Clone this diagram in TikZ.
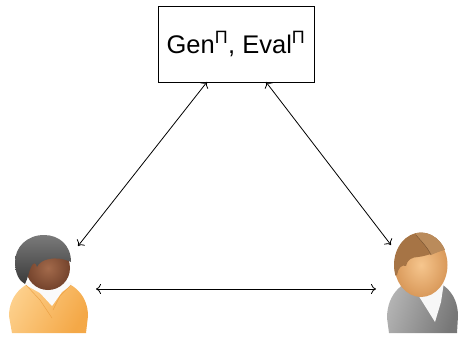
\documentclass[tikz,border=0pt]{standalone}
\usepackage{fontspec}
\setmainfont{Liberation Sans}
\usetikzlibrary{arrows.meta}
\definecolor{jacketLight}{HTML}{FDD08C}
\definecolor{jacketDark}{HTML}{F4A847}
\definecolor{skinDarkIn}{HTML}{A36A4B}
\definecolor{skinDarkOut}{HTML}{74432C}
\definecolor{hairGrayTop}{HTML}{7A7A7A}
\definecolor{hairGrayBot}{HTML}{3A3A3A}
\definecolor{skinLightIn}{HTML}{F6C68E}
\definecolor{skinLightOut}{HTML}{D9995A}
\definecolor{hairBrownA}{HTML}{A67445}
\definecolor{hairBrownB}{HTML}{BA8B5B}
\definecolor{suitLight}{HTML}{B4B4B4}
\definecolor{suitDark}{HTML}{777777}
\begin{document}
\begin{tikzpicture}[x=1pt,y=-1pt,
  link/.style={line width=0.8pt, {To[length=5pt,width=10pt]}-{To[length=5pt,width=10pt]}},
  algbox/.style={draw, line width=0.9pt, minimum width=156pt, minimum height=76pt,
    inner sep=0pt, font=\fontsize{25.5}{30}\selectfont}]
\useasboundingbox (0,0) rectangle (463,337);

% the box holding both algorithms
\node[algbox] (algs) at (236,44) {Gen\textsuperscript{Π}, Eval\textsuperscript{Π}};

% anchor points for the connectors
\coordinate (boxL) at (207,82);
\coordinate (boxR) at (266,82);
\coordinate (aliceTop) at (78,246);
\coordinate (bobTop) at (391,245);
\coordinate (aliceSide) at (96,289);
\coordinate (bobSide) at (376,289);

\draw[link] (boxL) -- (aliceTop);
\draw[link] (boxR) -- (bobTop);
\draw[link] (aliceSide) -- (bobSide);

% ---- left person ----
% jacket
\shade[left color=jacketLight, right color=jacketDark, shading angle=60]
  (12,333) -- (9,316) .. controls (9,293) and (27,279) .. (48,279)
  .. controls (70,279) and (88,293) .. (88,316) -- (86,333) -- cycle;
% collar
\fill[white!96!gray] (24,284) .. controls (30,281) and (35,280) .. (38,280) -- (62,280)
  .. controls (66,281) and (70,282) .. (73,284) -- (62,292) -- (52,306) -- (40,293) -- cycle;
% lapels
\draw[jacketDark!85!brown, line width=0.5pt] (26,285) -- (40,300) -- (52,318);
\draw[jacketDark!85!brown, line width=0.5pt] (71,285) -- (60,296) -- (53,310);
% face
\shade[inner color=skinDarkIn, outer color=skinDarkOut] (48,268) circle (22);
% hair
\shade[top color=hairGrayTop, bottom color=hairGrayBot]
  (71,262) .. controls (71,245) and (59,235) .. (44,235)
  .. controls (27,235) and (15,247) .. (15,262)
  .. controls (15,273) and (19,281) .. (25,284)
  .. controls (28,278) and (29,271) .. (31,267)
  .. controls (33,262) and (36,262) .. (37,267)
  .. controls (40,259) and (56,255) .. (71,262) -- cycle;

% ---- right person ----
% suit
\shade[left color=suitLight, right color=suitDark, shading angle=70]
  (389,333) -- (387,318) .. controls (387,293) and (404,279) .. (422,279)
  .. controls (442,279) and (458,293) .. (458,316) -- (457,333) -- cycle;
% shirt
\fill[white!94!gray] (410,282) -- (444,282) -- (441,302) -- (435,322) -- cycle;
% face
\shade[inner color=skinLightIn, outer color=skinLightOut] (421,265) ellipse (26.5 and 32);
% hair
\begin{scope}
  \clip (421,265) ellipse (27 and 32.5);
  \fill[hairBrownA]
    (390,278) -- (397,275) .. controls (398,268) and (402,264) .. (406,266)
    .. controls (407,260) and (412,257) .. (418,257)
    .. controls (428,256) and (440,250) .. (452,248) -- (452,228) -- (390,228) -- cycle;
  \fill[hairBrownB]
    (416,228) -- (416,235) .. controls (422,242) and (428,248) .. (431,255)
    .. controls (438,252) and (445,249) .. (452,248) -- (452,228) -- cycle;
  \draw[hairBrownA!70!black, line width=0.4pt]
    (416,235) .. controls (422,242) and (428,248) .. (431,255);
\end{scope}
\end{tikzpicture}
\end{document}
